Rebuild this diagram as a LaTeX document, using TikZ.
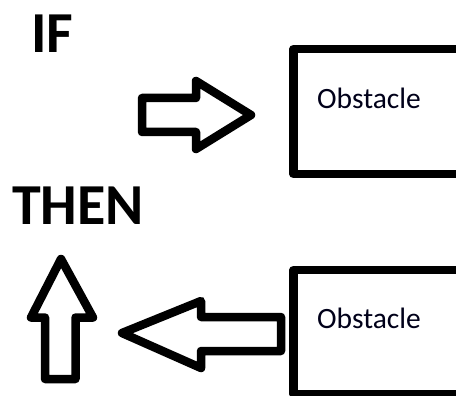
\documentclass[tikz,border=0pt]{standalone}
\usepackage{fontspec}
\setmainfont{Carlito}
\begin{document}
\begin{tikzpicture}[x=1pt,y=-1pt,
  thick line/.style={line width=8.5pt,line join=round,draw=black},
  headline/.style={font=\bfseries\fontsize{58}{60}\selectfont,inner sep=0pt,anchor=base west},
  boxlabel/.style={font=\fontsize{29.5}{31}\selectfont,inner sep=0pt,anchor=base west,text=black!90!blue}]
\useasboundingbox (0,0) rectangle (456,396);
\clip (0,0) rectangle (456,396);
% headings
\node[headline] (if) at (31,53) {IF};
\node[headline] (then) at (12,225) {THEN};
% boxes
\draw[thick line] (480,49) -- (293.5,49) -- (293.5,174) -- (480,174);
\node[boxlabel] (obs1) at (317,109) {Obstacle};
\draw[thick line] (480,270) -- (293.5,270) -- (293.5,394) -- (480,394);
\node[boxlabel] (obs2) at (317,328) {Obstacle};
% right arrow
\draw[thick line] (142,98) -- (196,98) -- (196,81) -- (251,115) -- (196,149) -- (196,132) -- (142,132) -- cycle;
% left arrow
\draw[thick line] (281,317) -- (201,317) -- (201,301) -- (122,333) -- (201,368) -- (201,351) -- (281,351) -- cycle;
% up arrow
\draw[thick line] (45,379) -- (45,317.5) -- (31,317.5) -- (61,259) -- (93,317.5) -- (75.5,317.5) -- (75.5,379) -- cycle;
\end{tikzpicture}
\end{document}
